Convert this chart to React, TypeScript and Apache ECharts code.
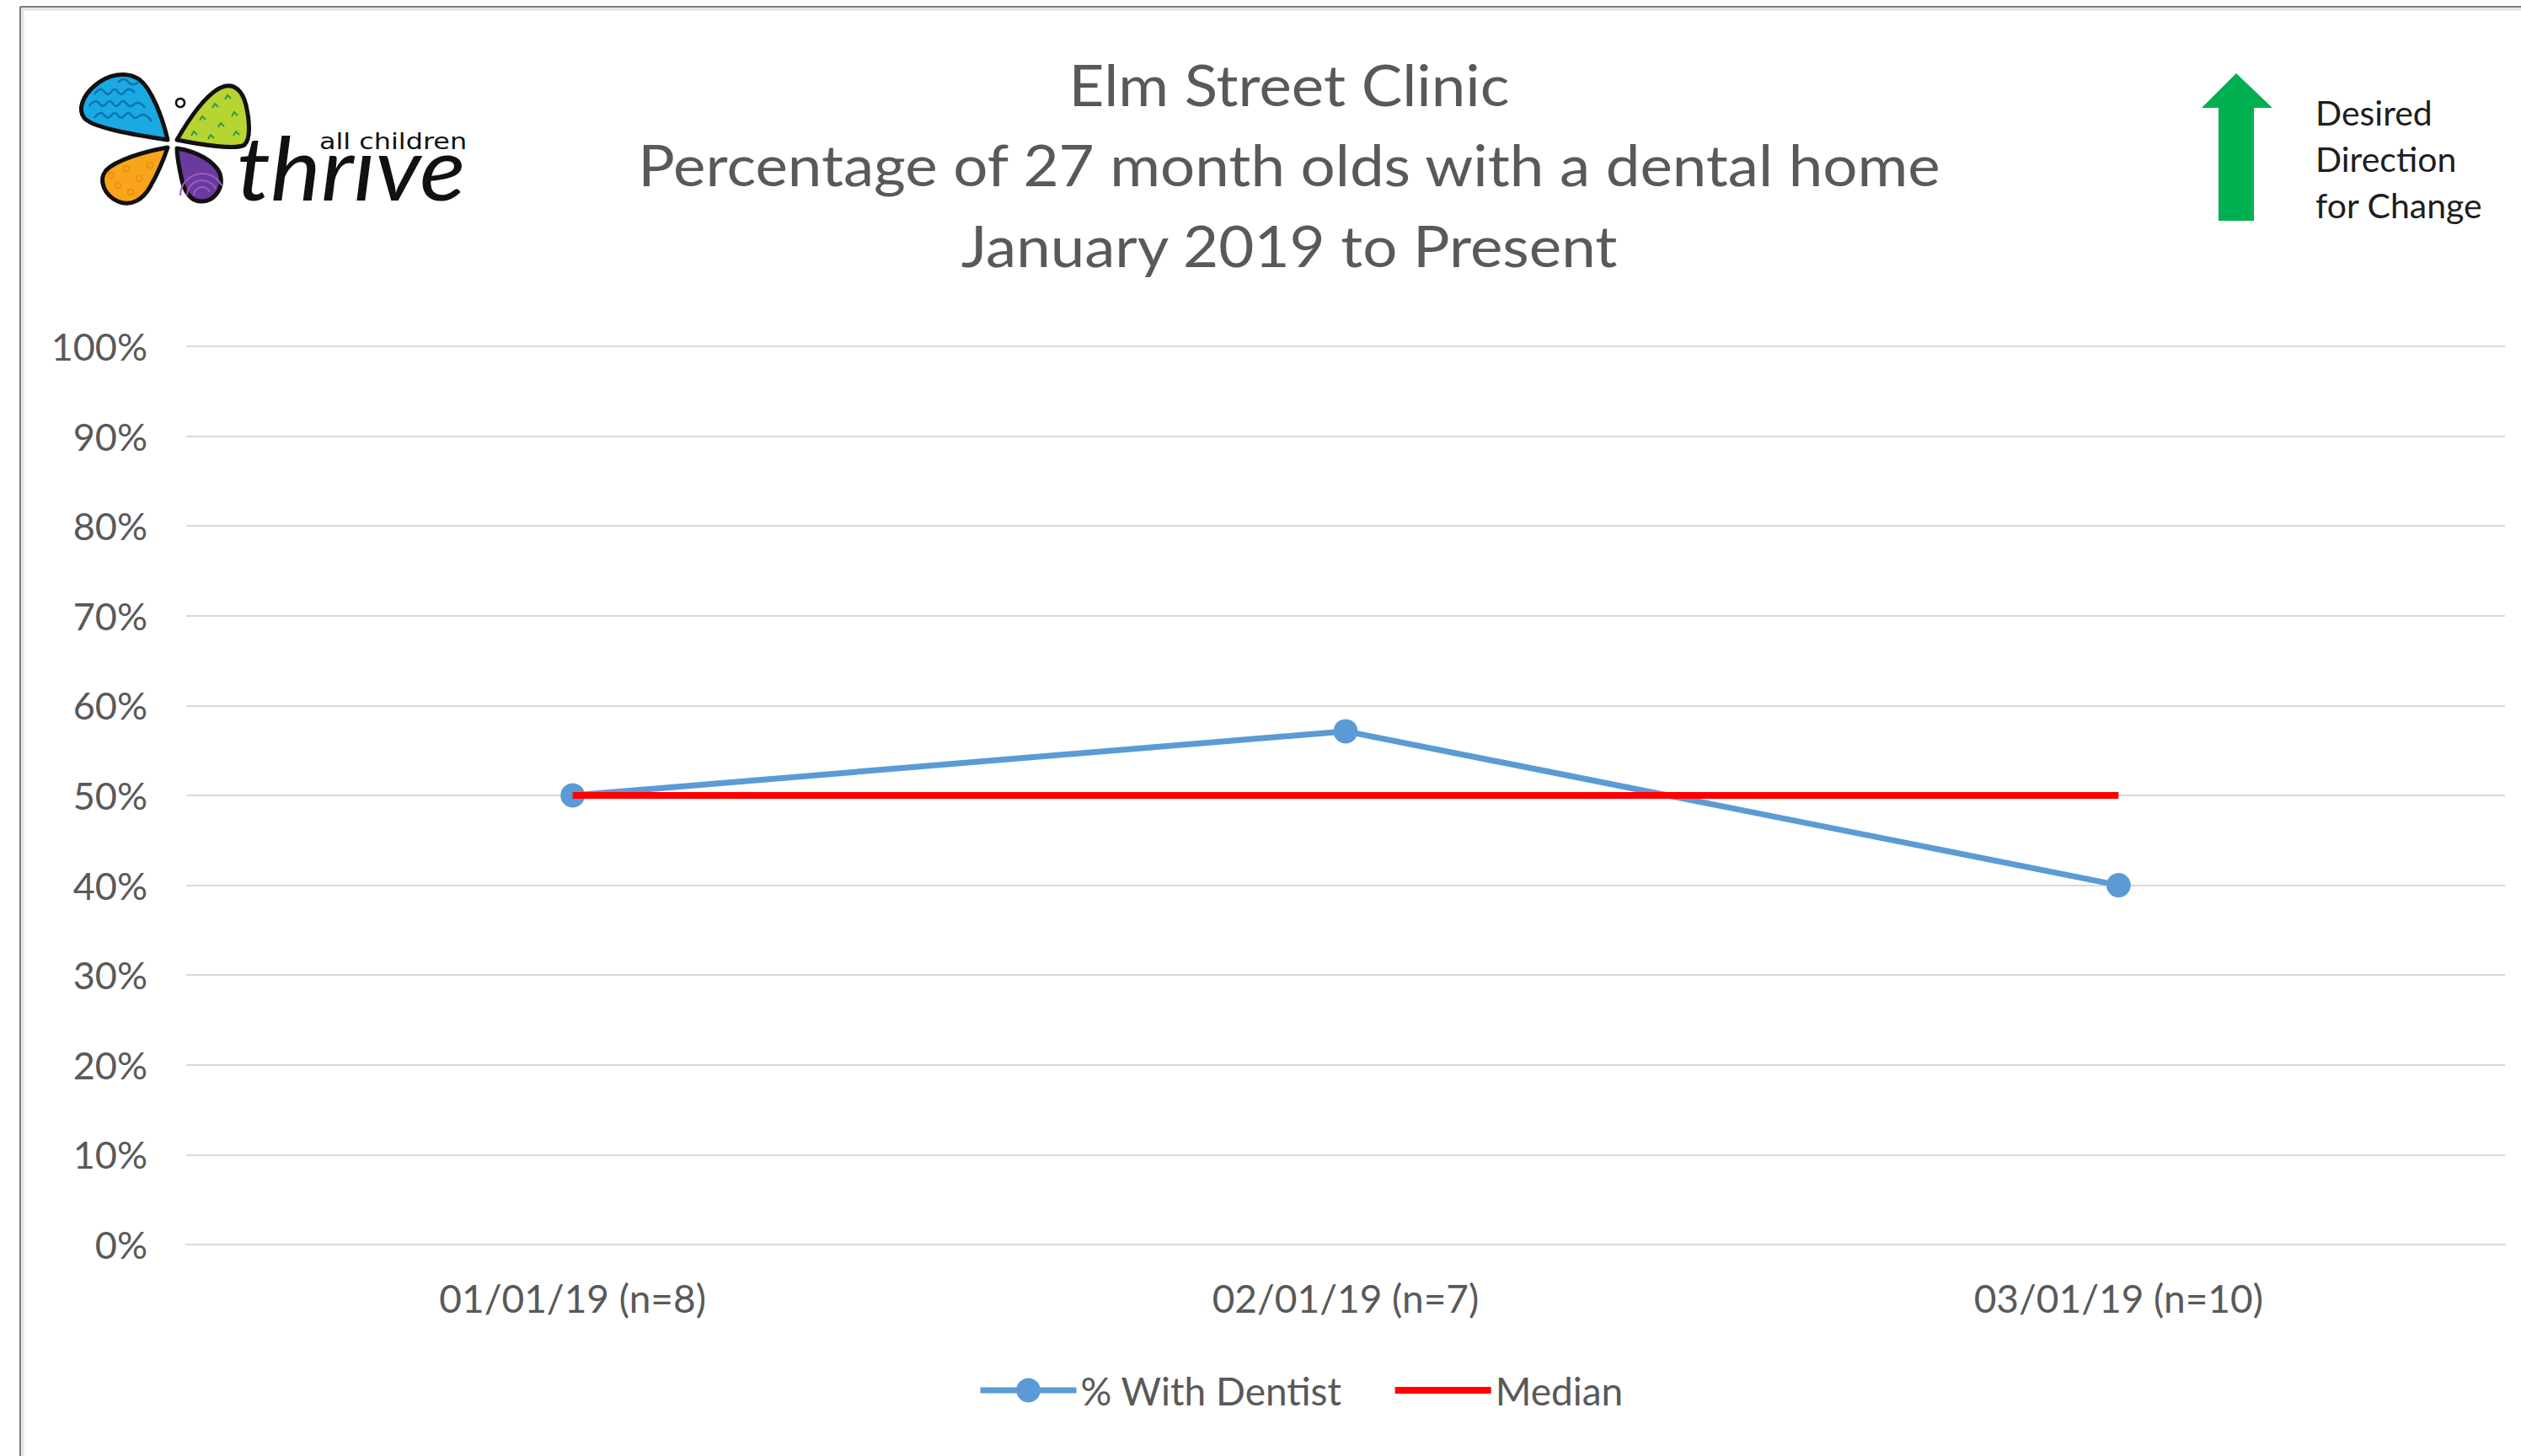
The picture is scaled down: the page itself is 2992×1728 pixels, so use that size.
import React, { useEffect, useRef } from "react";
import * as echarts from "echarts";

const categories = ["01/01/19 (n=8)", "02/01/19 (n=7)", "03/01/19 (n=10)"];
const withDentist = [0.5, 0.5714, 0.4];
const median = [0.5, 0.5, 0.5];
const titleLines = [
  "Elm Street Clinic",
  "Percentage of 27 month olds with a dental home",
  "January 2019 to Present",
];
const directionLines = ["Desired", "Direction", "for Change"];
const legendNames = ["% With Dentist", "Median"];

const FONT = "Lato, 'Open Sans', sans-serif";

const PETALS: Record<string, string> = {
  petalBlue:
    "M199,166 C193,140 180,105 165,94 C150,84 128,88 112,102 C98,114 92,130 100,140 C110,152 160,160 199,166 Z",
  petalGreen:
    "M210,166 C225,140 245,112 262,104 C278,97 288,108 292,125 C296,142 298,165 290,172 C280,178 240,172 210,166 Z",
  petalOrange:
    "M199,175 C170,180 138,190 126,202 C116,214 124,232 140,239 C156,246 170,236 178,222 C186,208 194,190 199,175 Z",
  petalPurple:
    "M210,176 C235,180 255,192 261,206 C266,222 256,238 240,239 C226,240 218,226 215,210 C212,196 210,186 210,176 Z",
};
Object.keys(PETALS).forEach((k) => {
  echarts.graphic.registerShape(k, echarts.graphic.extendPath(PETALS[k], {}));
});

function logoElements(): any[] {
  const petal = (type: string, fill: string) => ({
    type,
    x: 0,
    y: 0,
    style: { fill, stroke: "#111", lineWidth: 5, lineJoin: "round" },
  });
  const wave = (pts: number[][]) => ({
    type: "polyline",
    shape: { points: pts, smooth: 0.5 },
    style: { stroke: "#0a73ad", lineWidth: 2.5, fill: "none" },
  });
  const tick = (x: number, y: number) => ({
    type: "polyline",
    shape: { points: [[x - 3, y + 3], [x, y - 2], [x + 4, y + 2]] },
    style: { stroke: "#2e9a4a", lineWidth: 2, fill: "none" },
  });
  const dot = (x: number, y: number) => ({
    type: "circle",
    shape: { cx: x, cy: y, r: 3.5 },
    style: { stroke: "#e8891a", lineWidth: 1.5, fill: "none" },
  });
  const arc = (r: number) => ({
    type: "arc",
    shape: { cx: 240, cy: 232, r, startAngle: Math.PI, endAngle: Math.PI * 1.85 },
    style: { stroke: "#9a5cc4", lineWidth: 2, fill: "none" },
  });
  return [
    petal("petalBlue", "#1aa9e3"),
    wave([[112, 112], [120, 106], [128, 112], [136, 106], [144, 112], [152, 106], [160, 110]]),
    wave([[106, 126], [114, 120], [122, 126], [130, 120], [138, 126], [146, 120], [154, 126], [164, 122], [172, 128]]),
    wave([[112, 140], [120, 134], [128, 140], [136, 134], [144, 140], [152, 134], [160, 140], [170, 136], [180, 144]]),
    wave([[140, 98], [148, 94], [156, 100], [164, 98]]),
    petal("petalGreen", "#b8d432"),
    tick(240, 140),
    tick(255, 125),
    tick(270, 115),
    tick(262, 148),
    tick(278, 135),
    tick(230, 158),
    tick(250, 162),
    tick(280, 158),
    petal("petalOrange", "#f8a51b"),
    dot(150, 200),
    dot(165, 212),
    dot(140, 220),
    dot(155, 228),
    dot(178, 196),
    dot(132, 208),
    petal("petalPurple", "#6b3a9e"),
    arc(10),
    arc(18),
    arc(26),
    {
      type: "circle",
      shape: { cx: 214, cy: 122, r: 5 },
      style: { stroke: "#111", lineWidth: 2.5, fill: "#fff" },
    },
    {
      type: "text",
      x: 281,
      y: 250,
      scaleX: 1.13,
      scaleY: 1.05,
      originX: 0,
      originY: 0,
      style: {
        text: "thrive",
        font: `italic 400 100px ${FONT}`,
        fill: "#111",
        textVerticalAlign: "bottom",
      },
    },
    {
      type: "rect",
      shape: { x: 374, y: 152, width: 190, height: 28 },
      style: { fill: "#ffffff" },
    },
    {
      type: "text",
      x: 379,
      y: 181,
      scaleX: 1.18,
      originX: 0,
      originY: 0,
      style: {
        text: "all children",
        font: `500 27px 'DejaVu Sans', sans-serif`,
        fill: "#111",
        textVerticalAlign: "bottom",
      },
    },
  ];
}

export default function App() {
  const ref = useRef<HTMLDivElement>(null);

  useEffect(() => {
    if (!ref.current) return;
    const chart = echarts.init(ref.current, undefined, { renderer: "svg" });

    const titleY = [100, 195, 291];
    const dirY = [133, 188, 243];

    const option: any = {
      animation: false,
      backgroundColor: "#ffffff",
      grid: { left: 221, right: 19, top: 411, bottom: 251, containLabel: false },
      xAxis: {
        type: "category",
        data: categories,
        boundaryGap: true,
        axisLine: { show: true, lineStyle: { color: "#d9d9d9", width: 2 } },
        axisTick: { show: false },
        axisLabel: {
          color: "#595959",
          fontFamily: FONT,
          fontSize: 46,
          margin: 40,
        },
      },
      yAxis: {
        type: "value",
        min: 0,
        max: 1,
        interval: 0.1,
        axisLine: { show: false },
        axisTick: { show: false },
        splitLine: { show: true, lineStyle: { color: "#d9d9d9", width: 2 } },
        axisLabel: {
          color: "#595959",
          fontFamily: FONT,
          fontSize: 45,
          margin: 46,
          formatter: (v: number) => `${Math.round(v * 100)}%`,
        },
      },
      legend: {
        left: 1155,
        top: 1622,
        itemWidth: 114,
        itemHeight: 36,
        itemGap: 63,
        symbolKeepAspect: true,
        textStyle: { color: "#595959", fontFamily: FONT, fontSize: 46 },
        data: [
          { name: legendNames[0], lineStyle: { width: 7 } },
          { name: legendNames[1], icon: "path://M0,0H114V8H0Z" },
        ],
      },
      series: [
        {
          name: legendNames[0],
          type: "line",
          data: withDentist,
          symbol: "circle",
          symbolSize: 29,
          z: 2,
          lineStyle: { color: "#5b9bd5", width: 7 },
          itemStyle: { color: "#5b9bd5" },
        },
        {
          name: legendNames[1],
          type: "line",
          data: median,
          symbol: "none",
          showSymbol: false,
          z: 3,
          lineStyle: { color: "#ff0000", width: 8 },
          itemStyle: { color: "#ff0000" },
        },
      ],
      graphic: [
        {
          type: "line",
          shape: { x1: 24, y1: 8, x2: 2992, y2: 8 },
          style: { stroke: "#7a7a7a", lineWidth: 2 },
        },
        {
          type: "line",
          shape: { x1: 26, y1: 11, x2: 2992, y2: 11 },
          style: { stroke: "#e3e3e3", lineWidth: 3 },
        },
        {
          type: "line",
          shape: { x1: 24, y1: 8, x2: 24, y2: 1728 },
          style: { stroke: "#7a7a7a", lineWidth: 2 },
        },
        {
          type: "line",
          shape: { x1: 27, y1: 10, x2: 27, y2: 1728 },
          style: { stroke: "#e3e3e3", lineWidth: 3 },
        },
        ...titleLines.map((t, i) => ({
          type: "text",
          x: 1530,
          y: titleY[i],
          scaleX: 1.085,
          originX: 0,
          originY: 0,
          style: {
            text: t,
            font: `400 67px ${FONT}`,
            fill: "#595959",
            textAlign: "center",
            textVerticalAlign: "middle",
          },
        })),
        {
          type: "polygon",
          shape: {
            points: [
              [2654, 87],
              [2697, 128],
              [2675, 128],
              [2675, 262],
              [2633, 262],
              [2633, 128],
              [2613, 128],
            ],
          },
          style: { fill: "#00b050" },
        },
        ...directionLines.map((t, i) => ({
          type: "text",
          x: 2748,
          y: dirY[i],
          style: {
            text: t,
            font: `400 41px ${FONT}`,
            fill: "#1e1e1e",
            textAlign: "left",
            textVerticalAlign: "middle",
          },
        })),
        ...logoElements(),
      ],
    };

    chart.setOption(option);
    return () => chart.dispose();
  }, []);

  return (
    <div
      ref={ref}
      style={{ position: "absolute", left: 0, top: 0, width: 2992, height: 1728, background: "#fff" }}
    />
  );
}
